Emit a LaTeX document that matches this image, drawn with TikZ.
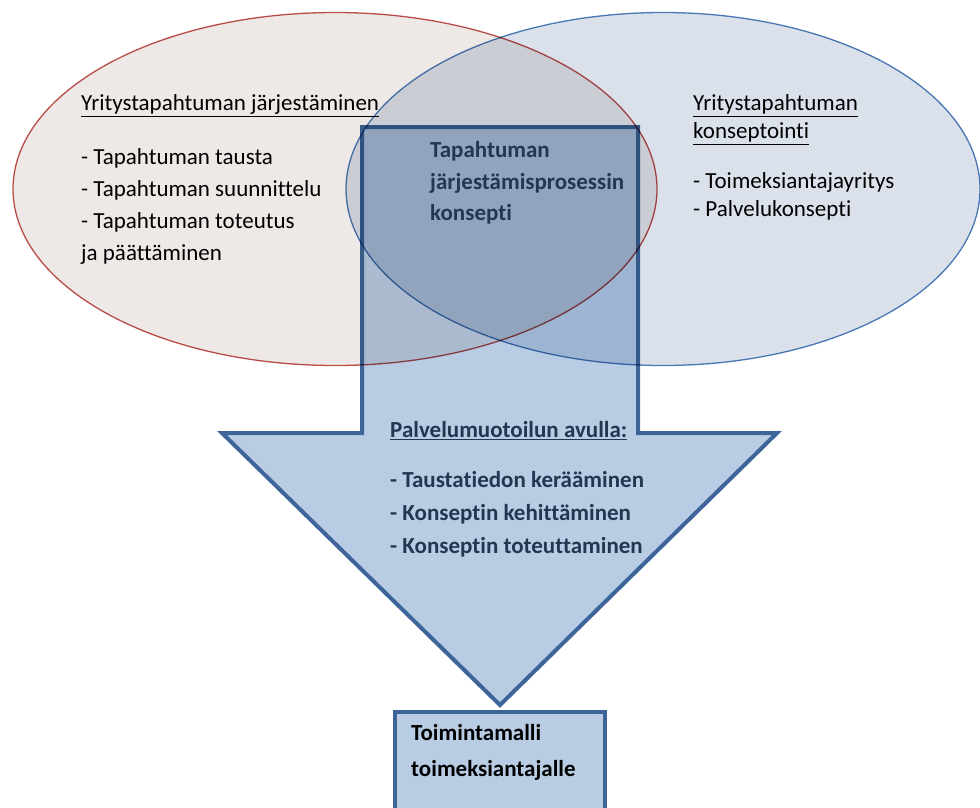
\documentclass[tikz,border=0pt]{standalone}
\usepackage{fontspec}
\setmainfont{Carlito}[Ligatures=NoCommon]
\usetikzlibrary{shapes,positioning}
\definecolor{redline}{HTML}{C0504D}
\definecolor{redfill}{HTML}{EEE9E7}
\definecolor{blueline}{HTML}{4F81BD}
\definecolor{bluefill}{HTML}{DAE1EB}
\definecolor{arrowline}{HTML}{3D6599}
\definecolor{arrowfill}{HTML}{B8CCE4}
\definecolor{navytext}{HTML}{243650}
\tikzstyle{oval}=[draw,ellipse,inner sep=0pt,minimum width=644pt,minimum
height=353pt,line width=1.3pt]
\tikzstyle{txt}=[anchor=north west,inner sep=0pt,align=left,
  font=\fontsize{23}{32}\selectfont]
\tikzstyle{thick box}=[draw=arrowline,fill=arrowfill,line width=4pt]

\begin{document}
\begin{tikzpicture}[x=1pt, y=-1pt]
  \useasboundingbox (0,0) rectangle (980,807);
  \clip (0,0) rectangle (980,807);

  % big arrow and the result box
  \draw[thick box, line join=miter] (362,127) -- (638,127) -- (638,433) -- (777,433)
    -- (500,705) -- (222,433) -- (362,433) -- cycle;
  \node[thick box, minimum width=210pt, minimum height=120pt, anchor=north]
    (malli) at (500,710) {};

  % the two circles on top
  \begin{scope}[blend mode=multiply]
    \node[oval, draw=redline, fill=redfill] (jarj) at (335,189) {};
    \node[oval, draw=blueline, fill=bluefill, minimum width=634pt] (konsept) at (663,189) {};
  \end{scope}

  \node[txt] (jarjhd) at (81,94.5) {\underline{Yritystapahtuman järjestäminen}};
  \node[txt] (jarjlist) at (81,148.5) {- Tapahtuman tausta\\- Tapahtuman suunnittelu\\
    - Tapahtuman toteutus\\ja päättäminen};

  \node[txt, font=\fontsize{23}{28}\selectfont] (konsepthd) at (693,94.5)
    {\underline{Yritystapahtuman}\\\underline{konseptointi}};
  \node[txt, font=\fontsize{23}{28}\selectfont] (konseptlist) at (693,172.5)
    {- Toimeksiantajayritys\\- Palvelukonsepti};

  \node[txt, font=\fontsize{23}{31.5}\selectfont\bfseries, text=navytext] (prosessi)
    at (430,141.5) {Tapahtuman\\järjestämisprosessin\\konsepti};

  \node[txt, font=\fontsize{23}{33}\selectfont\bfseries, text=navytext] (avulla)
    at (390,421.5) {\underline{Palvelumuotoilun avulla:}};
  \node[txt, font=\fontsize{23}{33}\selectfont\bfseries, text=navytext] (avullalist)
    at (390,471.5) {- Taustatiedon kerääminen\\- Konseptin kehittäminen\\
    - Konseptin toteuttaminen};

  \node[txt, font=\fontsize{23}{36}\selectfont\bfseries] (mallitxt)
    at ([shift={(18,14.5)}]malli.north west) {Toimintamalli\\toimeksiantajalle};
\end{tikzpicture}
\end{document}
